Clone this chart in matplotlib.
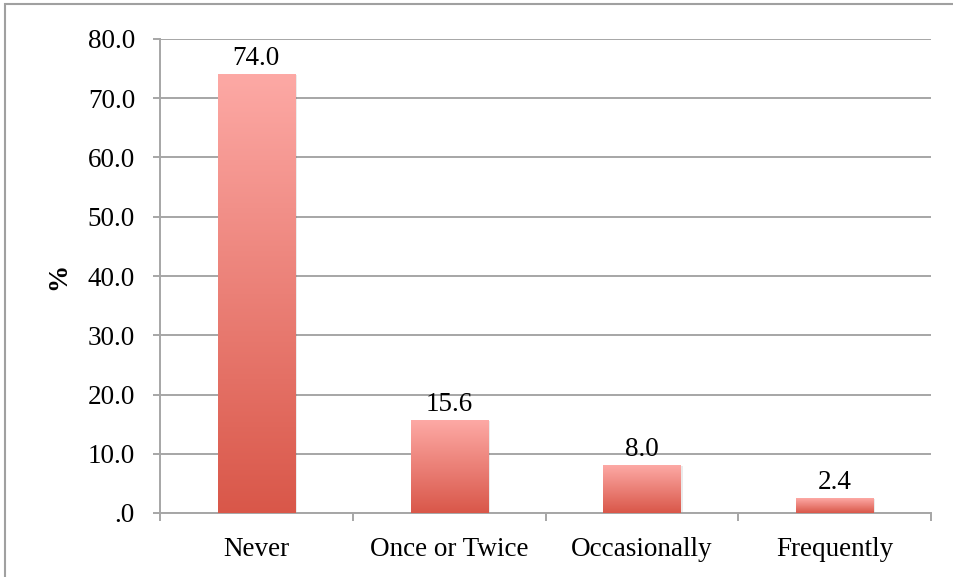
import numpy as np
import matplotlib
matplotlib.use("Agg")
from matplotlib import pyplot as plt
from matplotlib.colors import LinearSegmentedColormap
from matplotlib.patches import Rectangle

categories = ["Never", "Once or Twice", "Occasionally", "Frequently"]
values = [74.0, 15.6, 8.0, 2.4]
y_ticks = [0, 10, 20, 30, 40, 50, 60, 70, 80]
y_tick_labels = [".0", "10.0", "20.0", "30.0", "40.0", "50.0", "60.0", "70.0", "80.0"]

plt.rcParams["font.family"] = ["Liberation Serif", "DejaVu Serif"]
fs = 19.5

fig = plt.figure(figsize=(9.54, 5.77), dpi=100)
ax = fig.add_axes([160 / 954, 1 - 513 / 577, (931 - 160) / 954, (513 - 39) / 577])

# gradient for bars: light pink at top, darker red at bottom
cmap = LinearSegmentedColormap.from_list("bar", ["#d95749", "#fda9a5"])
grad = np.linspace(0, 1, 256).reshape(-1, 1)

bar_w = 0.4
for i, v in enumerate(values):
    x0 = i - bar_w / 2
    # faint shadow
    ax.add_patch(Rectangle((x0 + 0.012, 0), bar_w, v, color="#000000", alpha=0.08, zorder=2, lw=0))
    ax.imshow(grad, cmap=cmap, origin="lower", aspect="auto",
              extent=[x0, x0 + bar_w, 0, v], zorder=3)
    ax.text(i, v + 0.6, f"{v:.1f}", ha="center", va="bottom", fontsize=fs, zorder=4)

ax.set_xlim(-0.5, len(categories) - 0.5)
ax.set_ylim(0, 80)

ax.set_yticks(y_ticks)
ax.set_yticklabels(y_tick_labels, fontsize=fs)
ax.yaxis.grid(True, color="#a6a6a6", linewidth=1.4, zorder=1)
ax.set_axisbelow(True)

ax.set_xticks(range(len(categories)))
ax.set_xticklabels(categories, fontsize=fs)
ax.tick_params(axis="x", length=0, pad=17)
ax.set_xticks([-0.5, 0.5, 1.5, 2.5, 3.5], minor=True)
ax.tick_params(axis="x", which="minor", length=6, width=1.4, color="#a6a6a6", direction="out")
ax.tick_params(axis="y", length=5, width=1.4, color="#a6a6a6", pad=13)

for s in ["top", "right"]:
    ax.spines[s].set_visible(False)
for s in ["left", "bottom"]:
    ax.spines[s].set_color("#a6a6a6")
    ax.spines[s].set_linewidth(1.4)

ax.set_ylabel("%", fontsize=fs, fontweight="bold", labelpad=12)

# outer border of the chart area
fig.add_artist(Rectangle((5 / 954, -0.05), 1.2, 1 - 4 / 577 + 0.05, transform=fig.transFigure,
                         fill=False, edgecolor="#a0a0a0", linewidth=1.5))

fig.savefig("out.png", dpi=100)
